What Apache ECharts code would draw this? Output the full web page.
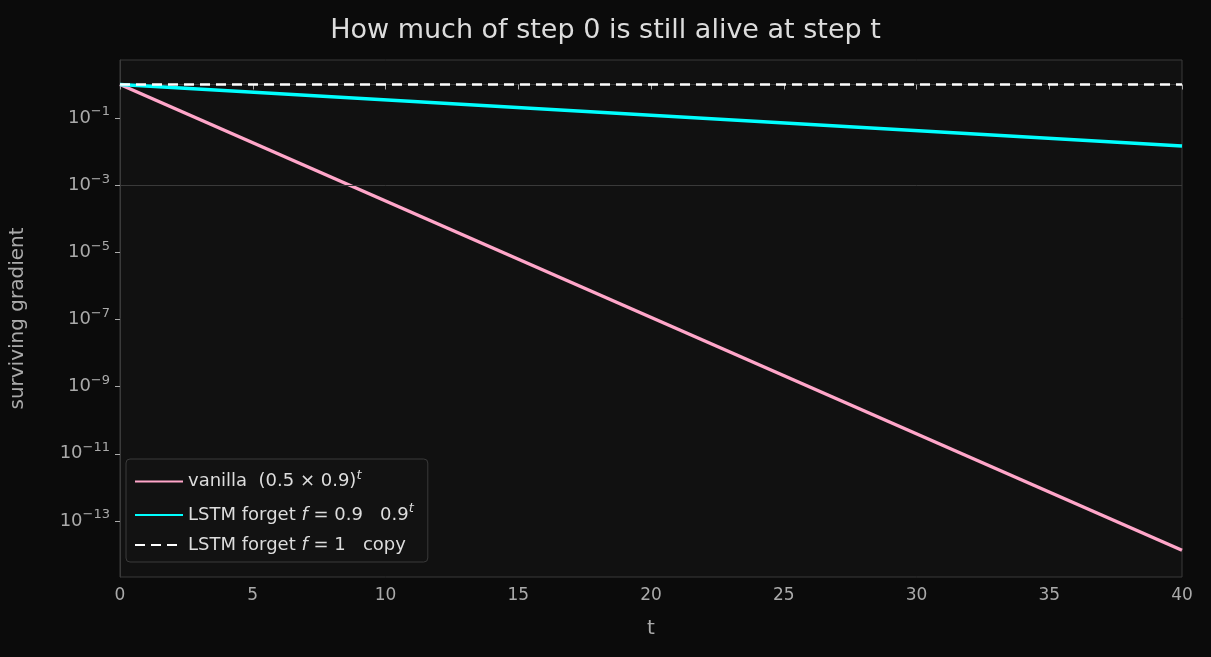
<!DOCTYPE html><html><head><meta charset="utf-8"><script src="https://cdn.jsdelivr.net/npm/echarts@6/dist/echarts.min.js"></script>
<style>html,body{margin:0;background:#0b0b0b}#c{width:1211px;height:657px}</style></head><body><div id="c"></div><script>
const tVals=[0,40];
const vanilla=[1,1.34e-14];
const lstm09=[1,0.0148];
const copy=[1,1];
const yTicks=[-13,-11,-9,-7,-5,-3,-1];
const xTicks=[0,5,10,15,20,25,30,35,40];
const mk=a=>tVals.map((t,i)=>[t,Math.log10(a[i])]);
const ch=echarts.init(document.getElementById('c'));
const F='DejaVu Sans';
const G='#aaaaaa';
ch.setOption({
backgroundColor:'#0b0b0b',animation:false,
title:{text:'How much of step 0 is still alive at step t',left:'center',top:12,textStyle:{color:'#dddddd',fontSize:27,fontWeight:'normal',fontFamily:F}},
grid:{left:116,right:29,top:60,bottom:80,show:true,backgroundColor:'#111111',borderColor:'#3a3a3a',borderWidth:1},
legend:{orient:'vertical',left:126,top:459,itemWidth:48,itemHeight:12,itemGap:12,padding:[10,14,8,8],backgroundColor:'#121212',borderColor:'#3a3a3a',borderWidth:1,borderRadius:4,
 itemStyle:{opacity:0},
 textStyle:{color:'#dddddd',fontFamily:F,fontSize:18,rich:{a:{color:'#ddd',fontSize:18,fontFamily:F},i:{color:'#ddd',fontSize:18,fontStyle:'italic',fontFamily:F},s:{color:'#ddd',fontSize:13,fontStyle:'italic',fontFamily:F,padding:[0,0,12,0]}}},
 formatter:n=>({'vanilla':'{a|vanilla  (0.5 × 0.9)}{s|t}','f09':'{a|LSTM forget }{i|f}{a| = 0.9   0.9}{s|t}','f1':'{a|LSTM forget }{i|f}{a| = 1   copy}'})[n],
 data:['vanilla','f09','f1']},
xAxis:{type:'value',min:0,max:40,interval:5,name:'t',nameLocation:'middle',nameGap:42,nameTextStyle:{color:G,fontSize:20,fontFamily:F},
 axisLine:{show:true,lineStyle:{color:'#3a3a3a'}},axisTick:{show:true,lineStyle:{color:G},length:5},axisLabel:{color:G,fontSize:17,fontFamily:F,margin:10},splitLine:{show:false}},
yAxis:{type:'value',min:-14.67,max:0.73,name:'surviving gradient',nameLocation:'middle',nameGap:92,nameTextStyle:{color:G,fontSize:20,fontFamily:F},
 axisLine:{show:true,lineStyle:{color:'#3a3a3a'}},axisTick:{show:true,customValues:yTicks,lineStyle:{color:G},length:5},
 axisLabel:{customValues:yTicks,color:G,fontFamily:F,margin:10,formatter:v=>'{b|10}{e|'+String(Math.round(v)).replace('-','−')+'}',
  rich:{b:{color:G,fontSize:18,fontFamily:F},e:{color:G,fontSize:13,fontFamily:F,padding:[0,0,12,0]}}},splitLine:{show:false}},
series:[
{name:'vanilla',type:'line',data:mk(vanilla),symbol:'none',lineStyle:{color:'#ffa6c9',width:3.5},itemStyle:{color:'#ffa6c9'},
 markLine:{silent:true,symbol:'none',label:{show:false},lineStyle:{color:'#3a3a3a',width:1,type:'solid'},data:[{yAxis:-3}]}},
{name:'f09',type:'line',data:mk(lstm09),symbol:'none',lineStyle:{color:'#00ffff',width:3.5},itemStyle:{color:'#00ffff'}},
{name:'f1',type:'line',data:mk(copy),symbol:'none',lineStyle:{color:'#ffffff',width:2.5,type:[10,6]},itemStyle:{color:'#ffffff'}}
]});
</script></body></html>
